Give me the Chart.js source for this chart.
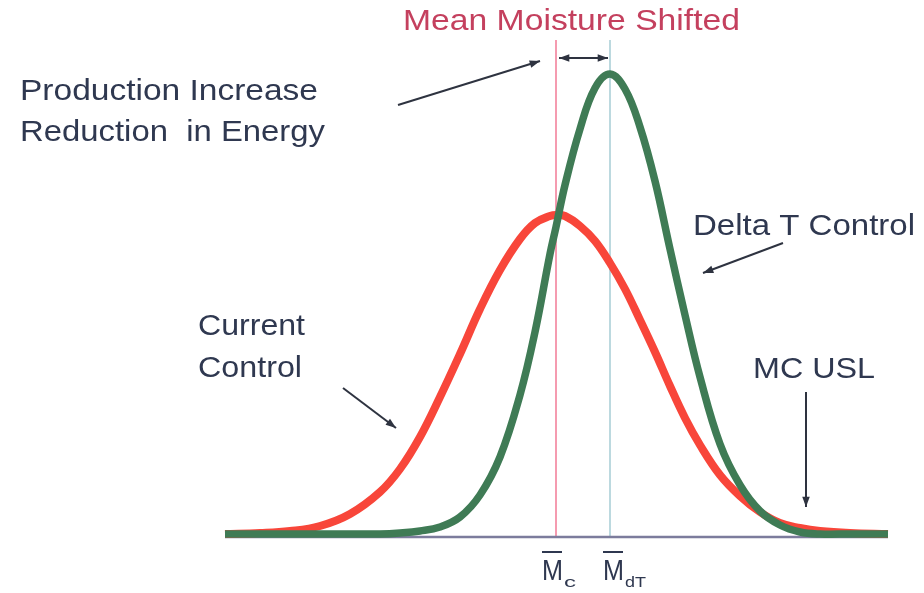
<!DOCTYPE html>
<html>
<head>
<meta charset="utf-8">
<script src="https://cdn.jsdelivr.net/npm/chart.js@4"></script>
<style>
  body { margin: 0; background: #fff; }
  #wrap { width: 924px; height: 593px; position: relative; }
</style>
</head>
<body>
<div id="wrap"><canvas id="grafico"></canvas></div>
<script>
// x positions along the moisture axis and curve heights above the baseline
const xs = [225, 260, 290, 320, 350, 380, 400, 420, 440, 460, 480, 500, 520, 535, 550, 556, 565, 580, 595, 610, 625, 640, 655, 670, 685, 700, 720, 740, 760, 780, 800, 820, 850, 888];
const currentControl = [3, 4, 6, 11, 23, 45, 68, 100, 140, 183, 228, 267, 298, 314, 321, 322, 321, 311, 296, 274, 248, 217, 185, 151, 119, 92, 62, 41, 25, 14, 9, 6, 4, 3];
const deltaTControl = [3, 3, 3, 3, 3, 3, 4, 6, 10, 20, 42, 80, 142, 205, 283, 310, 352, 408, 449, 463, 448, 410, 356, 288, 222, 160, 93, 52, 26, 12, 5, 3, 3, 3];
const meanCurrent = 556;
const meanDeltaT = 610;
const baseStart = 225, baseEnd = 888;

function pts(ys) {
    return xs.map((x, i) => ({ x: x, y: ys[i] }));
}

// texto con ancho ajustado
function fitText(ctx, txt, x, y, size, width, color) {
    ctx.save();
    ctx.font = size + 'px "Liberation Sans", Arial, sans-serif';
    ctx.fillStyle = color;
    ctx.textBaseline = 'alphabetic';
    let w = ctx.measureText(txt).width;
    ctx.translate(x, y);
    ctx.scale(width / w, 1);
    ctx.fillText(txt, 0, 0);
    ctx.restore();
}

function arrow(ctx, x1, y1, x2, y2, both) {
    ctx.save();
    ctx.strokeStyle = '#2e3340';
    ctx.fillStyle = '#2e3340';
    ctx.lineWidth = 2;
    ctx.beginPath();
    ctx.moveTo(x1, y1);
    ctx.lineTo(x2, y2);
    ctx.stroke();
    let head = (ax, ay, bx, by) => {
        let a = Math.atan2(by - ay, bx - ax);
        ctx.beginPath();
        ctx.moveTo(bx, by);
        ctx.lineTo(bx - 11 * Math.cos(a - 0.35), by - 11 * Math.sin(a - 0.35));
        ctx.lineTo(bx - 11 * Math.cos(a + 0.35), by - 11 * Math.sin(a + 0.35));
        ctx.closePath();
        ctx.fill();
    };
    head(x1, y1, x2, y2);
    if (both) head(x2, y2, x1, y1);
    ctx.restore();
}

const notas = {
    id: 'notas',
    afterDatasetsDraw(chart) {
        let ctx = chart.ctx;
        let sx = chart.scales.x, sy = chart.scales.y;
        let px = v => sx.getPixelForValue(v);
        let py = v => sy.getPixelForValue(537 - v);
        let dark = '#2f3850';

        fitText(ctx, 'Mean Moisture Shifted', px(403), py(30), 29, 337, '#c4405e');
        fitText(ctx, 'Production Increase', px(20), py(100), 30, 298, dark);
        fitText(ctx, 'Reduction  in Energy', px(20), py(141), 30, 305, dark);
        fitText(ctx, 'Current', px(198), py(335), 30, 107, dark);
        fitText(ctx, 'Control', px(198), py(377), 30, 104, dark);
        fitText(ctx, 'Delta T Control', px(693), py(235), 30, 222, dark);
        fitText(ctx, 'MC USL', px(753), py(378), 30, 122, dark);

        // etiquetas de las medias
        fitText(ctx, 'M', px(542), py(580), 30, 21, dark);
        fitText(ctx, 'c', px(564), py(587), 15, 12, dark);
        fitText(ctx, 'M', px(603), py(580), 30, 21, dark);
        fitText(ctx, 'dT', px(625), py(587), 14, 21, dark);
        ctx.save();
        ctx.strokeStyle = dark;
        ctx.lineWidth = 2;
        ctx.beginPath();
        ctx.moveTo(px(542), py(552)); ctx.lineTo(px(562), py(552));
        ctx.moveTo(px(603), py(552)); ctx.lineTo(px(623), py(552));
        ctx.stroke();
        ctx.restore();

        arrow(ctx, px(398), py(105), px(540), py(61));
        arrow(ctx, px(559), py(58), px(608), py(58), true);
        arrow(ctx, px(343), py(388), px(396), py(428));
        arrow(ctx, px(783), py(243), px(703), py(273));
        arrow(ctx, px(806), py(392), px(806), py(507));
    }
};

let ctx = document.getElementById('grafico');
let myChart = new Chart(ctx, {
    type: 'line',
    data: {
        datasets: [{
            label: 'Mc',
            data: [{ x: meanCurrent, y: 0 }, { x: meanCurrent, y: 497 }],
            borderColor: '#f27a96',
            borderWidth: 1.5,
            pointRadius: 0,
            order: 5
        }, {
            label: 'Mdt',
            data: [{ x: meanDeltaT, y: 0 }, { x: meanDeltaT, y: 497 }],
            borderColor: '#a6cdd4',
            borderWidth: 1.5,
            pointRadius: 0,
            order: 4
        }, {
            label: 'Base',
            data: [{ x: baseStart, y: 0 }, { x: baseEnd, y: 0 }],
            borderColor: '#7c7c9c',
            borderWidth: 2.5,
            pointRadius: 0,
            order: 3
        }, {
            label: 'Current Control',
            data: pts(currentControl),
            borderColor: '#f8463a',
            borderWidth: 8,
            pointRadius: 0,
            tension: 0.4,
            order: 2
        }, {
            label: 'Delta T Control',
            data: pts(deltaTControl),
            borderColor: '#3f7b55',
            borderWidth: 7.5,
            pointRadius: 0,
            tension: 0.4,
            order: 1
        }]
    },
    options: {
        responsive: true,
        maintainAspectRatio: false,
        animation: false,
        layout: { padding: 0 },
        plugins: { legend: { display: false }, tooltip: { enabled: false } },
        scales: {
            x: { type: 'linear', min: 0, max: 924, display: false },
            y: { type: 'linear', min: -56, max: 537, display: false }
        }
    },
    plugins: [notas]
});
</script>
</body>
</html>
